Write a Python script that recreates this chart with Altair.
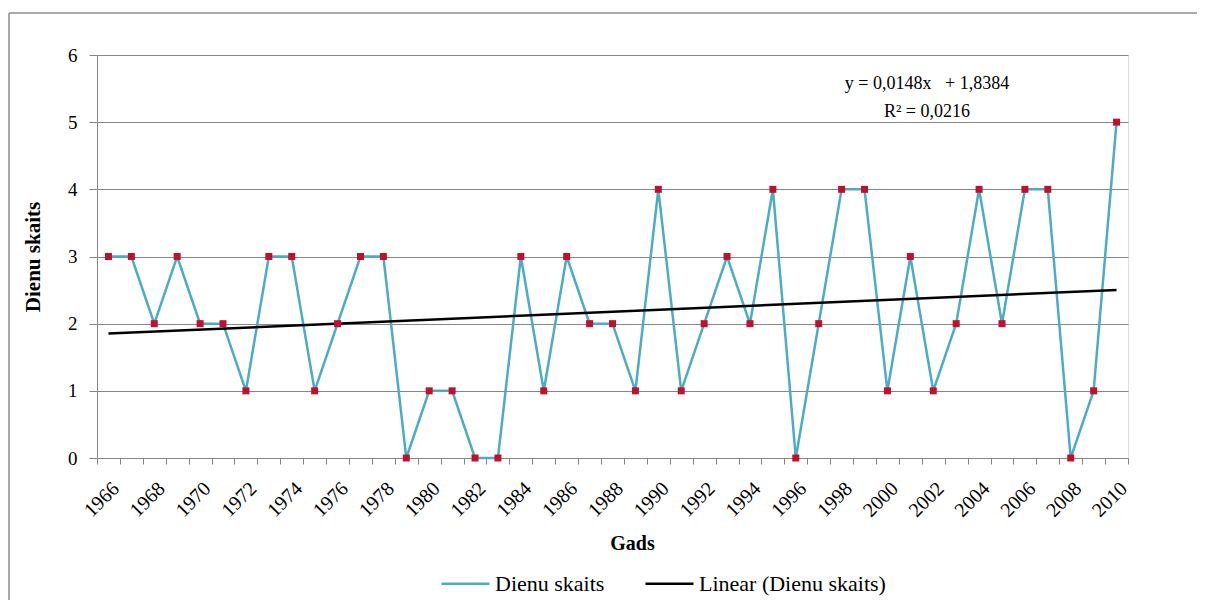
import altair as alt
import pandas as pd

years = list(range(1966, 2011))
values = [3, 3, 2, 3, 2, 2, 1, 3, 3, 1,
          2, 3, 3, 0, 1, 1, 0, 0, 3, 1,
          3, 2, 2, 1, 4, 1, 2, 3, 2, 4,
          0, 2, 4, 4, 1, 3, 1, 2, 4, 2,
          4, 4, 0, 1, 5]
series_names = ["Dienu skaits", "Linear (Dienu skaits)"]
equation_lines = ["y = 0,0148x\u00a0\u00a0\u00a0+ 1,8384", "R² = 0,0216"]
y_ticks = [0, 1, 2, 3, 4, 5, 6]

df = pd.DataFrame({"year": years, "value": values})

W, H = 1031, 403
FONT = "Liberation Serif"
TEAL = "#4BACC6"
RED = "#C0102E"
GRID = "#868686"

color_scale = alt.Scale(domain=series_names, range=[TEAL, "#000000"])
legend = alt.Legend(
    title=None, orient="none", legendX=343, legendY=503, direction="horizontal",
    symbolType="stroke", symbolSize=2304, symbolStrokeWidth=2.5,
    labelFont=FONT, labelFontSize=22, labelColor="#000000", labelOffset=4,
    labelLimit=400, columnPadding=35,
)

x_enc = alt.X(
    "year:O",
    scale=alt.Scale(type="band", paddingInner=0, paddingOuter=0),
    axis=alt.Axis(
        title="Gads", titleFont=FONT, titleFontSize=20, titleFontWeight="bold",
        titleX=535, titleY=85, titleAlign="center", titleBaseline="middle",
        titleColor="#000000",
        labelAngle=-45, labelFont=FONT, labelFontSize=20, labelColor="#000000",
        labelExpr="datum.value % 2 == 0 ? datum.label : ''",
        labelOverlap=False, labelPadding=14,
        tickBand="extent", tickSize=6, tickColor=GRID, domainColor=GRID,
        grid=False,
    ),
)
y_enc = alt.Y(
    "value:Q",
    scale=alt.Scale(domain=[0, 6], nice=False),
    axis=alt.Axis(
        values=y_ticks, title="Dienu skaits", titleFont=FONT, titleFontSize=21,
        titleFontWeight="bold", titleX=-64, titleBaseline="middle", titleColor="#000000",
        labelFont=FONT, labelFontSize=19, labelColor="#000000", labelPadding=12,
        tickSize=8, tickColor=GRID, domainColor=GRID, grid=True, gridColor=GRID,
    ),
)

base = alt.Chart(df).encode(x=x_enc, y=y_enc)

line = base.transform_calculate(series="'" + series_names[0] + "'").mark_line(
    strokeWidth=2.5
).encode(color=alt.Color("series:N", scale=color_scale, legend=legend))

trend = base.transform_regression("year", "value").transform_calculate(
    series="'" + series_names[1] + "'"
).mark_line(strokeWidth=2.5).encode(color=alt.Color("series:N", scale=color_scale, legend=legend))

points = base.mark_square(size=49, color=RED, opacity=1)

eq1 = alt.Chart(pd.DataFrame({"t": [equation_lines[0]]})).mark_text(
    font=FONT, fontSize=18, color="#000000"
).encode(text="t:N", x=alt.value(830), y=alt.value(29))
eq2 = alt.Chart(pd.DataFrame({"t": [equation_lines[1]]})).mark_text(
    font=FONT, fontSize=18, color="#000000"
).encode(text="t:N", x=alt.value(830), y=alt.value(57))

border_top = alt.Chart(pd.DataFrame({"a": [0]})).mark_rule(color="#8c8c8c", strokeWidth=1.5).encode(
    x=alt.value(-88), x2=alt.value(1108), y=alt.value(-42)
)
border_left = alt.Chart(pd.DataFrame({"a": [0]})).mark_rule(color="#8c8c8c", strokeWidth=1.5).encode(
    x=alt.value(-88), y=alt.value(-42), y2=alt.value(553)
)

chart = alt.layer(line, trend, points, eq1, eq2, border_top, border_left).properties(
    width=W, height=H,
    autosize=alt.AutoSizeParams(type="none"),
    padding={"left": 89, "top": 47, "right": 69, "bottom": 142},
).configure_view(stroke=None).configure(background="white")

chart.save("out.html", embed_options={"renderer": "svg", "actions": False})
